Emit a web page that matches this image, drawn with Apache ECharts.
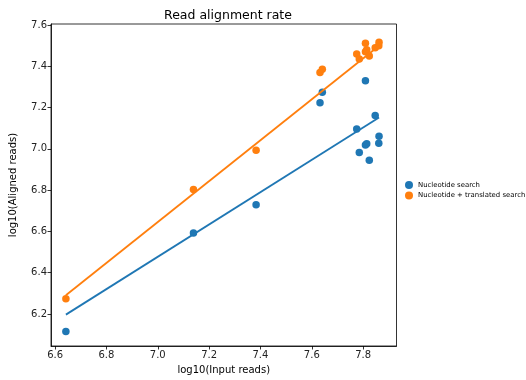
<!DOCTYPE html>
<html>
<head>
<meta charset="utf-8">
<script src="https://cdn.jsdelivr.net/npm/echarts@6/dist/echarts.min.js"></script>
<style>html,body{margin:0;padding:0;background:#fff}#c{width:526px;height:380px}</style>
</head>
<body>
<div id="c"></div>
<script>
const inputReads = [6.642, 7.139, 7.383, 7.632, 7.641, 7.775, 7.785, 7.809, 7.809, 7.814, 7.824, 7.847, 7.861, 7.862];
const alignedNucleotide = [6.115, 6.593, 6.729, 7.224, 7.274, 7.096, 6.982, 7.330, 7.019, 7.025, 6.945, 7.162, 7.027, 7.061];
const alignedTranslated = [6.274, 6.803, 6.993, 7.370, 7.386, 7.460, 7.435, 7.512, 7.470, 7.480, 7.450, 7.490, 7.500, 7.517];
const fitX = [6.642, 7.862];
const fitNucleotide = [6.197, 7.152];
const fitTranslated = [6.291, 7.500];
const xTicks = [6.6, 6.8, 7.0, 7.2, 7.4, 7.6, 7.8];
const yTicks = [6.2, 6.4, 6.6, 6.8, 7.0, 7.2, 7.4, 7.6];
const seriesNames = ['Nucleotide search', 'Nucleotide + translated search'];
const colors = ['#1f77b4', '#ff7f0e'];

const font = 'DejaVu Sans';
const chart = echarts.init(document.getElementById('c'), null, {renderer: 'canvas'});
const pts = (xs, ys) => xs.map((x, i) => [x, ys[i]]);
const axisCommon = {
  axisLine: {show: true, onZero: false, lineStyle: {color: '#000', width: 0.8}},
  axisTick: {show: true, length: 3.5, lineStyle: {color: '#000', width: 0.8}},
  splitLine: {show: false},
  axisLabel: {color: '#222', fontSize: 10, fontFamily: font, margin: 4},
  nameTextStyle: {color: '#000', fontSize: 10, fontFamily: font}
};
chart.setOption({
  animation: false,
  backgroundColor: '#fff',
  title: {
    text: 'Read alignment rate', left: 223, top: 4, textAlign: 'center',
    textStyle: {fontFamily: font, fontSize: 12.5, fontWeight: 'normal', color: '#000'}
  },
  grid: {left: 51, right: 129.5, top: 24, bottom: 32, show: true, borderColor: '#000', borderWidth: 0.8},
  legend: {
    data: seriesNames.map((n, i) => ({name: n, icon: 'circle', itemStyle: {color: colors[i]}})),
    orient: 'vertical', left: 400, top: 176, itemWidth: 8, itemHeight: 8, itemGap: 2.5,
    textStyle: {fontFamily: font, fontSize: 6.9, color: '#000', padding: [0, 0, 0, 0]}
  },
  xAxis: Object.assign({}, axisCommon, {
    type: 'value', min: 6.584, max: 7.93,
    name: 'log10(Input reads)', nameLocation: 'middle', nameGap: 19,
    axisLabel: Object.assign({}, axisCommon.axisLabel, {customValues: xTicks, formatter: v => v.toFixed(1)}),
    axisTick: Object.assign({}, axisCommon.axisTick, {customValues: xTicks})
  }),
  yAxis: Object.assign({}, axisCommon, {
    type: 'value', min: 6.045, max: 7.605,
    name: 'log10(Aligned reads)', nameLocation: 'middle', nameGap: 33,
    axisLabel: Object.assign({}, axisCommon.axisLabel, {customValues: yTicks, formatter: v => v.toFixed(1)}),
    axisTick: Object.assign({}, axisCommon.axisTick, {customValues: yTicks})
  }),
  series: [
    {name: seriesNames[0], type: 'scatter', data: pts(inputReads, alignedNucleotide), symbolSize: 7.5, itemStyle: {color: colors[0], opacity: 1}, z: 3},
    {name: seriesNames[1], type: 'scatter', data: pts(inputReads, alignedTranslated), symbolSize: 7.5, itemStyle: {color: colors[1], opacity: 1}, z: 3},
    {name: 'fit1', type: 'line', data: pts(fitX, fitNucleotide), symbol: 'none', lineStyle: {color: colors[0], width: 1.8}, z: 4},
    {name: 'fit2', type: 'line', data: pts(fitX, fitTranslated), symbol: 'none', lineStyle: {color: colors[1], width: 1.8}, z: 4}
  ]
});
</script>
</body>
</html>
